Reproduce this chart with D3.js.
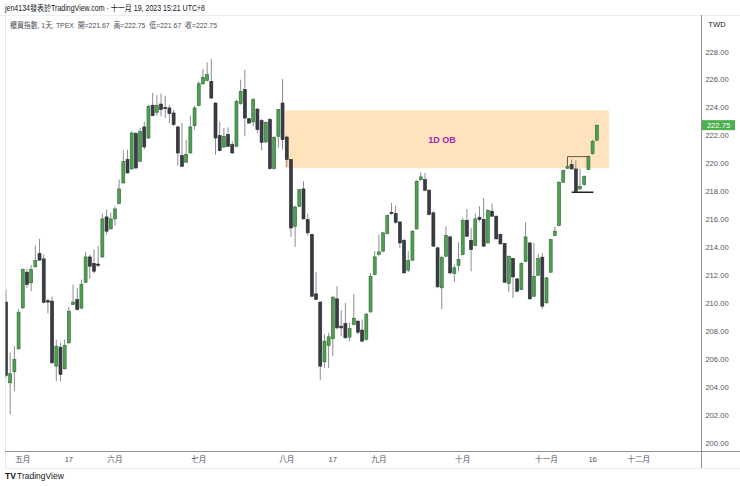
<!DOCTYPE html>
<html>
<head>
<meta charset="utf-8">
<script src="https://cdnjs.cloudflare.com/ajax/libs/d3/7.8.5/d3.min.js"></script>
<style>
  body { margin: 0; background: #fff; }
  svg { display: block; font-family: "Liberation Sans", Arial, "Noto Sans CJK TC", sans-serif; }
</style>
</head>
<body>
<div id="chart"></div>
<script>
// 櫃買指數 daily candles, late April -> Nov 17 2023 (one entry per trading day)
var opens = [210.1, 204.33, 205.12, 206.76, 209.69, 212.24, 211.48, 212.62, 213.57, 213.19,
    210.2, 210.17, 205.52, 206.88, 205.33, 207.19, 209.93, 210.29, 209.67, 211.52,
    213.33, 212.86, 212.82, 213.33, 216.19, 215.33, 216.05, 217.14, 218.62, 220.29,
    219.62, 222.14, 220.17, 222.62, 221.83, 224.17, 223.67, 224.26, 224.02, 223.98,
    223.62, 222.62, 220.57, 220.1, 220.76, 222.71, 224.14, 225.71, 225.95, 225.88,
    224.33, 222.0, 221.19, 222.07, 221.36, 221.24, 224.29, 225.29, 223.21, 222.98,
    223.9, 223.07, 221.55, 223.14, 219.64, 221.95, 224.33, 221.9, 220.29, 215.52,
    216.95, 218.19, 216.0, 214.93, 210.69, 210.1, 205.83, 207.0, 207.48, 210.33,
    208.38, 208.57, 207.6, 208.5, 208.74, 208.1, 207.43, 209.4, 212.07, 213.5,
    213.74, 215.0, 216.52, 216.43, 215.83, 214.52, 212.38, 213.1, 215.33, 218.86,
    218.86, 218.1, 216.48, 213.98, 211.12, 213.38, 214.76, 212.14, 212.71, 213.5,
    215.95, 214.52, 214.14, 216.17, 216.0, 214.33, 216.6, 216.24, 214.93, 214.29,
    211.43, 213.21, 211.76, 211.0, 213.0, 214.33, 210.52, 212.02, 213.31, 210.05,
    212.24, 214.86, 215.57, 218.67, 219.67, 219.93, 219.62, 218.19, 218.5, 219.57,
    220.71, 221.67];
var highs = [211.0, 206.5, 206.95, 209.6, 212.5, 212.5, 212.76, 214.14, 214.62, 213.5,
    210.36, 210.5, 207.4, 207.2, 207.43, 209.76, 211.36, 211.12, 211.71, 213.7,
    213.5, 213.86, 214.1, 216.43, 216.71, 216.5, 216.95, 218.86, 220.95, 221.0,
    222.3, 222.25, 222.55, 223.0, 224.2, 225.05, 224.9, 225.0, 224.86, 224.2,
    223.86, 222.7, 222.9, 221.7, 223.43, 224.14, 225.88, 226.76, 227.24, 227.48,
    224.38, 223.0, 222.55, 222.6, 221.6, 224.57, 226.0, 226.71, 223.26, 224.69,
    223.98, 223.19, 223.02, 223.26, 222.0, 223.9, 226.05, 222.0, 220.33, 217.0,
    218.19, 218.74, 216.43, 215.0, 212.24, 210.17, 207.79, 207.9, 210.52, 211.24,
    209.52, 210.05, 208.6, 210.69, 208.81, 208.86, 209.33, 212.19, 213.74, 214.93,
    215.1, 216.36, 217.19, 217.0, 215.88, 214.62, 213.74, 215.24, 218.81, 219.38,
    219.33, 218.19, 216.6, 214.05, 213.43, 215.52, 214.86, 212.79, 214.38, 216.12,
    216.76, 215.4, 216.43, 216.95, 217.55, 216.71, 217.14, 216.29, 215.0, 214.33,
    213.43, 213.26, 211.83, 212.95, 215.81, 214.38, 214.33, 213.57, 213.62, 211.9,
    214.62, 215.48, 218.74, 219.57, 219.93, 220.29, 220.24, 219.62, 219.14, 220.57,
    221.71, 222.75];
var lows = [204.7, 202.07, 203.74, 206.7, 209.6, 211.12, 210.88, 212.6, 213.05, 210.0,
    209.3, 205.7, 204.45, 204.45, 205.3, 207.1, 209.9, 209.5, 209.6, 211.45,
    211.76, 212.15, 212.6, 213.25, 214.93, 215.3, 215.57, 217.1, 218.57, 219.29,
    219.57, 219.62, 220.1, 221.0, 221.76, 223.38, 223.43, 223.38, 223.26, 222.9,
    222.67, 219.86, 219.76, 220.05, 220.71, 222.43, 224.1, 225.64, 225.88, 224.62,
    220.64, 220.88, 221.1, 221.19, 220.71, 221.19, 224.21, 221.95, 222.86, 222.67,
    222.19, 220.95, 221.48, 219.57, 219.57, 221.12, 221.0, 219.76, 214.76, 214.05,
    216.9, 216.0, 214.86, 210.48, 210.24, 204.52, 205.4, 205.4, 206.24, 208.14,
    207.67, 207.48, 207.3, 208.43, 207.79, 207.24, 207.38, 209.33, 212.0, 213.43,
    213.67, 214.93, 216.36, 215.71, 213.98, 212.14, 212.24, 213.02, 215.29, 218.74,
    218.02, 216.29, 214.05, 211.12, 209.6, 213.33, 212.07, 211.52, 212.3, 213.43,
    214.76, 212.3, 214.1, 215.88, 214.05, 214.29, 216.19, 214.57, 214.21, 211.48,
    210.8, 210.4, 210.81, 210.95, 212.95, 210.29, 210.48, 211.95, 209.62, 209.98,
    212.19, 214.81, 215.52, 218.62, 219.62, 219.57, 217.95, 218.14, 218.43, 219.52,
    220.64, 221.67];
var closes = [204.86, 204.98, 206.0, 209.38, 212.43, 211.36, 212.43, 213.07, 213.1, 210.09,
    210.1, 205.76, 206.95, 204.93, 207.0, 209.45, 210.1, 209.57, 211.38, 213.33,
    212.67, 212.31, 212.78, 216.05, 215.17, 216.05, 216.76, 218.19, 220.14, 219.33,
    222.19, 219.69, 222.31, 221.19, 224.1, 223.43, 224.17, 223.86, 223.98, 223.57,
    222.79, 220.76, 219.81, 220.64, 222.62, 223.98, 225.71, 226.17, 226.36, 224.69,
    221.83, 220.93, 221.95, 221.24, 220.76, 224.45, 225.17, 223.26, 222.9, 224.57,
    222.43, 221.52, 222.95, 219.64, 221.88, 223.86, 221.71, 220.29, 215.4, 216.9,
    218.14, 216.05, 215.05, 210.52, 210.29, 205.52, 207.31, 207.62, 210.45, 208.26,
    208.26, 207.55, 208.21, 208.95, 207.95, 207.31, 209.24, 211.95, 213.33, 213.69,
    215.05, 216.29, 216.43, 215.81, 214.33, 212.19, 213.07, 215.17, 218.74, 219.05,
    218.1, 216.36, 214.1, 211.19, 213.3, 214.86, 212.19, 212.55, 213.14, 215.93,
    214.81, 213.86, 216.05, 216.0, 214.1, 216.67, 216.24, 214.62, 214.26, 211.52,
    213.38, 211.9, 210.88, 212.86, 214.76, 210.33, 211.95, 213.21, 209.81, 211.83,
    214.57, 215.17, 218.67, 219.5, 219.81, 219.62, 218.02, 218.38, 219.1, 220.52,
    221.6, 222.75];

// time axis labels (bar index -> text)
var tickIdx = [4, 15, 26, 46, 67, 78, 89, 109, 129, 140, 151];
var tickLabels = ["五月", "17", "六月", "七月", "八月", "17", "九月", "十月", "十一月", "16", "十二月"];

// price axis
var priceTicks = [200, 202, 204, 206, 208, 210, 212, 214, 216, 218, 220, 222, 224, 226, 228];

// 1D order block zone
var obStart = 66.6, obEnd = 143.9;
var obLow = 219.67, obHigh = 223.79;

// small drawn lines near the last bars
var bracketTop = [[134, 219.8], [134, 220.5], [139, 220.5]];
var bracketLow = [[135, 217.95], [140.2, 217.95]];

var svgWidth = 740;
var svgHeight = 486;

// plot area (price axis sits on the right)
var plot = { left: 5, right: 701, top: 15, bottom: 451 };

var svg = d3.select("#chart")
    .append("svg")
    .attr("width", svgWidth)
    .attr("height", svgHeight);

var x = d3.scaleLinear()
    .domain([-0.24, 165.87])
    .range([plot.left, plot.right]);

var y = d3.scaleLinear()
    .domain([200, 228])
    .range([443.4, 51.7]);

svg.append("defs").append("clipPath")
    .attr("id", "plotClip")
    .append("rect")
    .attr("x", plot.left + 0.5)
    .attr("y", plot.top)
    .attr("width", plot.right - plot.left - 0.5)
    .attr("height", plot.bottom - plot.top);

// frame lines
svg.append("line").attr("x1", 0).attr("x2", svgWidth).attr("y1", 15.5).attr("y2", 15.5)
    .attr("stroke", "#eceef2");
svg.append("line").attr("x1", 5.5).attr("x2", 5.5).attr("y1", 15).attr("y2", 468)
    .attr("stroke", "#e6e8ec");
svg.append("line").attr("x1", 5).attr("x2", svgWidth).attr("y1", 468.5).attr("y2", 468.5)
    .attr("stroke", "#eceef2");

var chartGroup = svg.append("g").attr("clip-path", "url(#plotClip)");

// order block
chartGroup.append("rect")
    .attr("x", x(obStart))
    .attr("y", y(obHigh))
    .attr("width", x(obEnd) - x(obStart))
    .attr("height", y(obLow) - y(obHigh))
    .attr("fill", "#ffe3bc");

chartGroup.append("text")
    .attr("x", 442)
    .attr("y", y((obLow + obHigh) / 2) + 3.2)
    .attr("text-anchor", "middle")
    .attr("font-size", 9)
    .attr("font-weight", "bold")
    .attr("fill", "#9c27b0")
    .text("1D OB");

var bars = d3.range(opens.length);

// wicks
chartGroup.selectAll(".wick")
    .data(bars)
    .enter()
    .append("line")
    .attr("class", "wick")
    .attr("x1", i => x(i))
    .attr("x2", i => x(i))
    .attr("y1", i => y(highs[i]))
    .attr("y2", i => y(lows[i]))
    .attr("stroke", "#8a8d93")
    .attr("stroke-width", 1);

// bodies
chartGroup.selectAll(".body")
    .data(bars)
    .enter()
    .append("rect")
    .attr("class", "body")
    .attr("x", i => x(i) - 1.5)
    .attr("width", 3)
    .attr("y", i => y(Math.max(opens[i], closes[i])))
    .attr("height", i => Math.max(1.2, Math.abs(y(opens[i]) - y(closes[i]))))
    .attr("fill", i => closes[i] >= opens[i] ? "#4f9f53" : "#393c44")
    .attr("stroke", i => closes[i] >= opens[i] ? "#2e6b31" : "#26282e")
    .attr("stroke-width", 0.6);

// drawn lines
var line = d3.line().x(d => x(d[0])).y(d => y(d[1]));
chartGroup.append("path")
    .attr("d", line(bracketTop))
    .attr("fill", "none")
    .attr("stroke", "#5d5a55")
    .attr("stroke-width", 1);
chartGroup.append("path")
    .attr("d", line(bracketLow))
    .attr("fill", "none")
    .attr("stroke", "#1f1f1f")
    .attr("stroke-width", 1.6);

// price axis
svg.append("line")
    .attr("x1", plot.right + 0.5).attr("x2", plot.right + 0.5)
    .attr("y1", 15).attr("y2", 468)
    .attr("stroke", "#8f929a");

svg.append("g")
    .selectAll("text")
    .data(priceTicks)
    .enter()
    .append("text")
    .attr("x", 717)
    .attr("y", d => y(d) + 2.8)
    .attr("text-anchor", "middle")
    .attr("font-size", 7.6)
    .attr("fill", "#50535e")
    .text(d => d.toFixed(2));

svg.append("text")
    .attr("x", 717).attr("y", 27)
    .attr("text-anchor", "middle")
    .attr("font-size", 7.6)
    .attr("fill", "#131722")
    .text("TWD");

// last price tag
var last = closes[closes.length - 1];
svg.append("rect")
    .attr("x", 702).attr("y", y(last) - 5)
    .attr("width", 33).attr("height", 10)
    .attr("fill", "#4caf50");
svg.append("text")
    .attr("x", 718.5).attr("y", y(last) + 2.8)
    .attr("text-anchor", "middle")
    .attr("font-size", 7.6)
    .attr("fill", "#ffffff")
    .text(last.toFixed(2));

// time axis
svg.append("line")
    .attr("x1", 5).attr("x2", svgWidth)
    .attr("y1", plot.bottom + 0.5).attr("y2", plot.bottom + 0.5)
    .attr("stroke", "#8f929a");

svg.append("g")
    .selectAll("text")
    .data(tickIdx)
    .enter()
    .append("text")
    .attr("x", d => x(d))
    .attr("y", 462)
    .attr("text-anchor", "middle")
    .attr("font-size", 7.6)
    .attr("fill", "#50535e")
    .text((d, i) => tickLabels[i]);

// header
svg.append("text")
    .attr("x", 5).attr("y", 11)
    .attr("font-size", 8.4)
    .attr("fill", "#131722")
    .attr("textLength", 200)
    .attr("lengthAdjust", "spacingAndGlyphs")
    .text("jen4134發表於TradingView.com · 十一月 19, 2023 15:21 UTC+8");

svg.append("text")
    .attr("x", 10).attr("y", 28)
    .attr("font-size", 7.6)
    .attr("fill", "#4a4d57")
    .attr("xml:space", "preserve")
    .attr("textLength", 207)
    .attr("lengthAdjust", "spacingAndGlyphs")
    .text("櫃買指數, 1天, TPEX  開=221.67  高=222.75  低=221.67  收=222.75");

// footer logo
var logo = svg.append("g").attr("transform", "translate(5, 479)");
logo.append("text")
    .attr("x", 0).attr("y", 0)
    .attr("font-size", 8.5)
    .attr("font-weight", "bold")
    .attr("fill", "#131722")
    .text("TV");
logo.append("text")
    .attr("x", 12).attr("y", 0)
    .attr("font-size", 8.5)
    .attr("fill", "#131722")
    .text("TradingView");
</script>
</body>
</html>
